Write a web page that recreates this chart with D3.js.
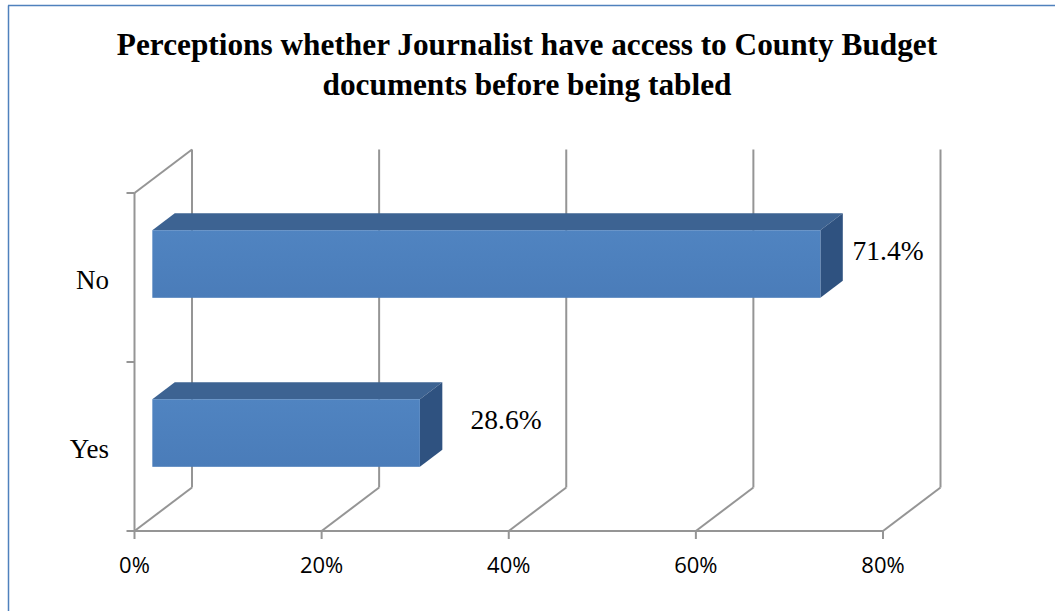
<!DOCTYPE html>
<html>
<head>
<meta charset="utf-8">
<script src="https://cdn.jsdelivr.net/npm/d3@7/dist/d3.min.js"></script>
<style>
  html, body { margin: 0; padding: 0; background: #fff; }
  svg { display: block; }
</style>
</head>
<body>
<svg id="chart" width="1055" height="611"></svg>
<script>
// ---- data ----
const titleLines = ["Perceptions whether Journalist have access to County Budget", "documents before being tabled"];
const categories = ["No", "Yes"];
const values = [71.4, 28.6];
const valueLabels = ["71.4%", "28.6%"];
const xTicks = [0, 20, 40, 60, 80];
const xTickLabels = ["0%", "20%", "40%", "60%", "80%"];

// ---- layout ----
const svg = d3.select("#chart");
const W = 1055, H = 611;
const plot = { left: 134.5, right: 883, top: 193, bottom: 531 };
const depth = { dx: 57.5, dy: -43.5 };          // full depth offset of back wall
const barDepth = [0.31, 0.70];                  // bar front / back depth fraction
const gridColor = "#959595";
const gw = 2;

const x = d3.scaleLinear().domain([0, 80]).range([plot.left, plot.right]);
const y = d3.scaleBand().domain(categories).range([plot.top, plot.bottom]).padding(0);
const barFrac = 0.40;

const P = (px, py, d) => [px + d * depth.dx, py + d * depth.dy];
const path = pts => "M" + pts.map(p => p.join(",")).join("L") + "Z";
const line = pts => "M" + pts.map(p => p.join(",")).join("L");

// frame
svg.append("line").attr("x1", 8.5).attr("y1", 5.5).attr("x2", 8.5).attr("y2", H)
  .attr("stroke", "#4f81bd").attr("stroke-width", 1.5);
svg.append("line").attr("x1", 8).attr("y1", 5.5).attr("x2", W).attr("y2", 5.5)
  .attr("stroke", "#4f81bd").attr("stroke-width", 1.5);

// title
const title = svg.append("text")
  .attr("text-anchor", "middle")
  .style("font-family", "'Liberation Serif', 'Times New Roman', serif")
  .style("font-weight", "bold")
  .style("font-size", "31.3px")
  .attr("fill", "#000");
title.selectAll("tspan").data(titleLines).enter().append("tspan")
  .attr("x", 527).attr("y", (d, i) => 55 + i * 40).text(d => d);

const g = svg.append("g");

// back wall gridlines + floor lines
xTicks.forEach(t => {
  const a = P(x(t), plot.top, 1), b = P(x(t), plot.bottom, 1);
  g.append("path").attr("d", line([a, b])).attr("stroke", gridColor).attr("stroke-width", gw).attr("fill", "none");
  const f0 = P(x(t), plot.bottom, 0), f1 = P(x(t), plot.bottom, 1);
  g.append("path").attr("d", line([f0, f1])).attr("stroke", gridColor).attr("stroke-width", gw).attr("fill", "none");
});
// side wall top edge
g.append("path").attr("d", line([P(x(0), plot.top, 0), P(x(0), plot.top, 1)]))
  .attr("stroke", gridColor).attr("stroke-width", gw).attr("fill", "none");

// axes (front)
g.append("path").attr("d", line([[x(0), plot.top], [x(0), plot.bottom]]))
  .attr("stroke", gridColor).attr("stroke-width", gw).attr("fill", "none");
g.append("path").attr("d", line([[x(0), plot.bottom], [x(80), plot.bottom]]))
  .attr("stroke", gridColor).attr("stroke-width", gw).attr("fill", "none");
// y ticks at category boundaries
const yBounds = [plot.top].concat(categories.map(c => y(c) + y.bandwidth()));
yBounds.forEach(v => {
  g.append("line").attr("x1", x(0) - 8).attr("x2", x(0)).attr("y1", v).attr("y2", v)
    .attr("stroke", gridColor).attr("stroke-width", gw);
});
// x ticks
xTicks.forEach(t => {
  g.append("line").attr("x1", x(t)).attr("x2", x(t)).attr("y1", plot.bottom).attr("y2", plot.bottom + 8)
    .attr("stroke", gridColor).attr("stroke-width", gw);
});

// x tick labels
svg.append("g").selectAll("text").data(xTicks).enter().append("text")
  .attr("x", d => x(d)).attr("y", 573)
  .attr("text-anchor", "middle")
  .style("font-family", "'Open Sans', sans-serif")
  .style("font-size", "22px")
  .attr("fill", "#000")
  .text((d, i) => xTickLabels[i]);

// category labels
svg.append("g").selectAll("text").data(categories).enter().append("text")
  .attr("x", 109).attr("y", d => y(d) + y.bandwidth() / 2 + 11.5)
  .attr("text-anchor", "end")
  .style("font-family", "'Liberation Serif', 'Times New Roman', serif")
  .style("font-size", "27px")
  .attr("fill", "#000")
  .text(d => d);

// bars
const defs = svg.append("defs");
const grad = defs.append("linearGradient").attr("id", "frontGrad").attr("x1", 0).attr("x2", 0).attr("y1", 0).attr("y2", 1);
grad.append("stop").attr("offset", "0%").attr("stop-color", "#5084c1");
grad.append("stop").attr("offset", "100%").attr("stop-color", "#4a7cb9");

const bars = svg.append("g");
categories.forEach((c, i) => {
  const v = values[i];
  const bh = y.bandwidth() * barFrac;
  const yc = y(c) + y.bandwidth() / 2;
  const y0 = yc - bh / 2, y1 = yc + bh / 2;
  const [d0, d1] = barDepth;
  const x0 = x(0), x1 = x(v);
  bars.append("path").attr("d", path([P(x0, y0, d0), P(x1, y0, d0), P(x1, y0, d1), P(x0, y0, d1)]))
    .attr("fill", "#3d6392");
  bars.append("path").attr("d", path([P(x1, y0, d0), P(x1, y1, d0), P(x1, y1, d1), P(x1, y0, d1)]))
    .attr("fill", "#2f5280");
  const fa = P(x0, y0, d0), fb = P(x1, y1, d0);
  bars.append("rect").attr("x", fa[0]).attr("y", fa[1]).attr("width", fb[0] - fa[0]).attr("height", fb[1] - fa[1])
    .attr("fill", "url(#frontGrad)");
});

// value labels
const labelDx = [50, 68.5];
svg.append("g").selectAll("text").data(categories).enter().append("text")
  .attr("x", (d, i) => x(values[i]) + labelDx[i])
  .attr("y", (d, i) => P(0, y(d) + y.bandwidth() / 2, barDepth[0])[1] - 4.5)
  .style("font-family", "'Liberation Serif', 'Times New Roman', serif")
  .style("font-size", "27.5px")
  .attr("fill", "#000")
  .text((d, i) => valueLabels[i]);
</script>
</body>
</html>
